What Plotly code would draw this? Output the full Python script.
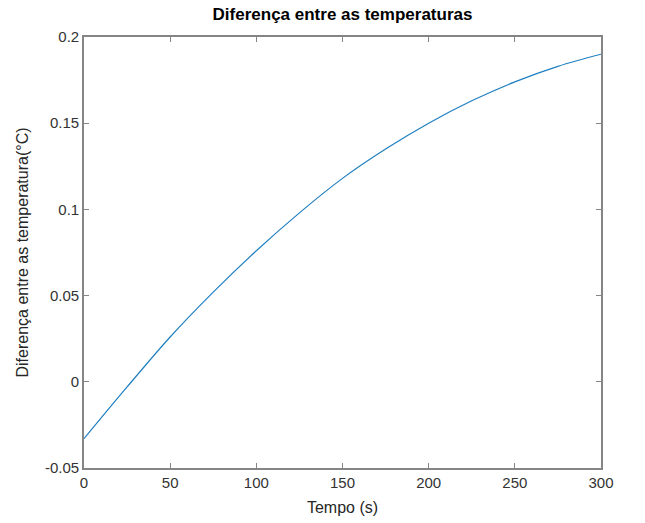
import plotly.graph_objects as go

tempo = [0, 25, 50, 75, 100, 125, 150, 175, 200, 225, 250, 275, 300]
diferenca = [-0.033, -0.003, 0.026, 0.052, 0.076, 0.098, 0.118, 0.135, 0.150, 0.163, 0.174, 0.183, 0.190]

x_ticks = [0, 50, 100, 150, 200, 250, 300]
y_ticks = [-0.05, 0, 0.05, 0.1, 0.15, 0.2]
y_tick_text = ["-0.05", "0", "0.05", "0.1", "0.15", "0.2"]

fig = go.Figure()
fig.add_trace(go.Scatter(x=tempo, y=diferenca, mode="lines",
                         line=dict(color="#1f7fc0", width=1.2, shape="spline"),
                         showlegend=False))

axis_color = "#858585"
font_fam = "Liberation Sans, Arial, sans-serif"

fig.update_layout(
    width=645, height=523,
    margin=dict(l=84, r=44, t=37, b=55),
    paper_bgcolor="white", plot_bgcolor="white",
    font=dict(family=font_fam, color="#262626", size=15),
    title=dict(text="<b>Diferença entre as temperaturas</b>", x=0.531, xanchor="center",
               y=0.974, yanchor="middle", font=dict(size=17, color="#000000")),
    xaxis=dict(range=[0, 300], tickvals=x_ticks, ticks="inside", ticklen=5,
               tickcolor=axis_color, showline=True, linecolor=axis_color, linewidth=1.6,
               mirror="ticks", showgrid=False, zeroline=False, automargin=False,
               title=dict(text="Tempo (s)", standoff=12, font=dict(size=16)),
               tickfont=dict(size=15, color="#333333")),
    yaxis=dict(range=[-0.05, 0.2], tickvals=y_ticks, ticktext=y_tick_text, ticks="inside", ticklen=5,
               tickcolor=axis_color, showline=True, linecolor=axis_color, linewidth=1.6,
               mirror="ticks", showgrid=False, zeroline=False, automargin=False,
               title=dict(text="Diferença entre as temperatura(°C)", standoff=12, font=dict(size=16)),
               tickfont=dict(size=15, color="#333333")),
)

fig.write_html("out.html")
